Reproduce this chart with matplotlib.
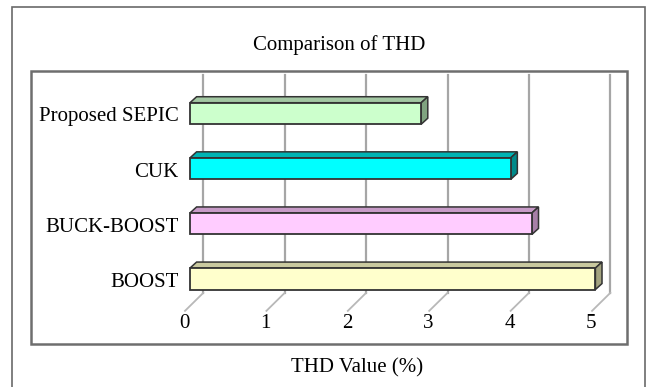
import numpy as np
import matplotlib
matplotlib.use('Agg')
import matplotlib.pyplot as plt
from matplotlib.patches import Rectangle, Polygon
from matplotlib.transforms import offset_copy

categories = ['BOOST', 'BUCK-BOOST', 'CUK', 'Proposed SEPIC']
thd = [4.98, 4.20, 3.94, 2.84]
ticks = [0, 1, 2, 3, 4, 5]

front_colors = ['#FFFFCC', '#FFCCFF', '#00FFFF', '#CCFFCC']
top_colors = ['#C9C99F', '#C79BC7', '#00B3B3', '#A3C8A3']
side_colors = ['#A3A37F', '#A77FA7', '#008A8A', '#7FA37F']

plt.rcParams.update({
    'font.family': 'Liberation Serif',
    'font.size': 15,
})

W, H = 649, 387
fig = plt.figure(figsize=(W / 100, H / 100), dpi=100)


def fx(px):
    return px / W


def fy(py):
    return 1 - py / H


# axes = front plane of the bars, placed in pixel units
ax = fig.add_axes([fx(190), fy(322.9), 439.6 / W, 242.5 / H])
ax.set_xlim(0, 5.4)
ax.set_ylim(-0.8, 3.6)
ax.axis('off')


def shift(dx, dy):
    # data-space vector for a pixel offset (dx right, dy up)
    origin = ax.transData.transform((0, 0))
    return ax.transData.inverted().transform(origin + np.array([dx, dy]))


wall = shift(13.3, 13.5)
bar_back = shift(6.6, 6.0)
floor_front = shift(-5.0, -4.5)
y_floor, y_top = -0.5, 3.45
h = 0.39

# back wall gridlines and floor diagonals
for t in ticks:
    ax.plot([t + wall[0]] * 2, [y_floor + wall[1], y_top + wall[1]],
            color='#A6A6A6', lw=1.6, clip_on=False, zorder=1)
    ax.plot([t + wall[0], t + floor_front[0]],
            [y_floor + wall[1], y_floor + floor_front[1]],
            color='#B8B8B8', lw=1.3, clip_on=False, zorder=1)

# 3D-looking bars
for i, v in enumerate(thd):
    y0, y1 = i - h / 2, i + h / 2
    bx, by = bar_back
    top = [(0, y1), (v, y1), (v + bx, y1 + by), (bx, y1 + by)]
    side = [(v, y0), (v, y1), (v + bx, y1 + by), (v + bx, y0 + by)]
    ax.add_patch(Polygon(top, closed=True, fc=top_colors[i], ec='#333333',
                         lw=1.1, clip_on=False, zorder=3))
    ax.add_patch(Polygon(side, closed=True, fc=side_colors[i], ec='#333333',
                         lw=1.1, clip_on=False, zorder=3))
    ax.add_patch(Rectangle((0, y0), v, h, fc=front_colors[i], ec='#333333',
                           lw=1.3, clip_on=False, zorder=4))

tick_tr = offset_copy(ax.transData, fig=fig, x=-6, y=-22, units='dots')
for t in ticks:
    ax.text(t, y_floor, str(t), transform=tick_tr, ha='center', va='baseline')

cat_tr = offset_copy(ax.transData, fig=fig, x=-11.5, y=-8, units='dots')
for i, name in enumerate(categories):
    ax.text(0, i, name, transform=cat_tr, ha='right', va='baseline')

fig.text(fx(339), fy(50), 'Comparison of THD', ha='center', va='baseline')
fig.text(fx(357), fy(372), 'THD Value (%)', ha='center', va='baseline')

# chart area and plot area borders
fig.add_artist(Rectangle((fx(12), fy(400)), (645 - 12) / W, (400 - 7) / H,
                         transform=fig.transFigure, fill=False,
                         ec='#6A6A6A', lw=1.2))
fig.add_artist(Rectangle((fx(31), fy(344)), (627 - 31) / W, (344 - 71) / H,
                         transform=fig.transFigure, fill=False,
                         ec='#6E6E6E', lw=1.8))

fig.savefig('out.png', dpi=100, facecolor='white')
